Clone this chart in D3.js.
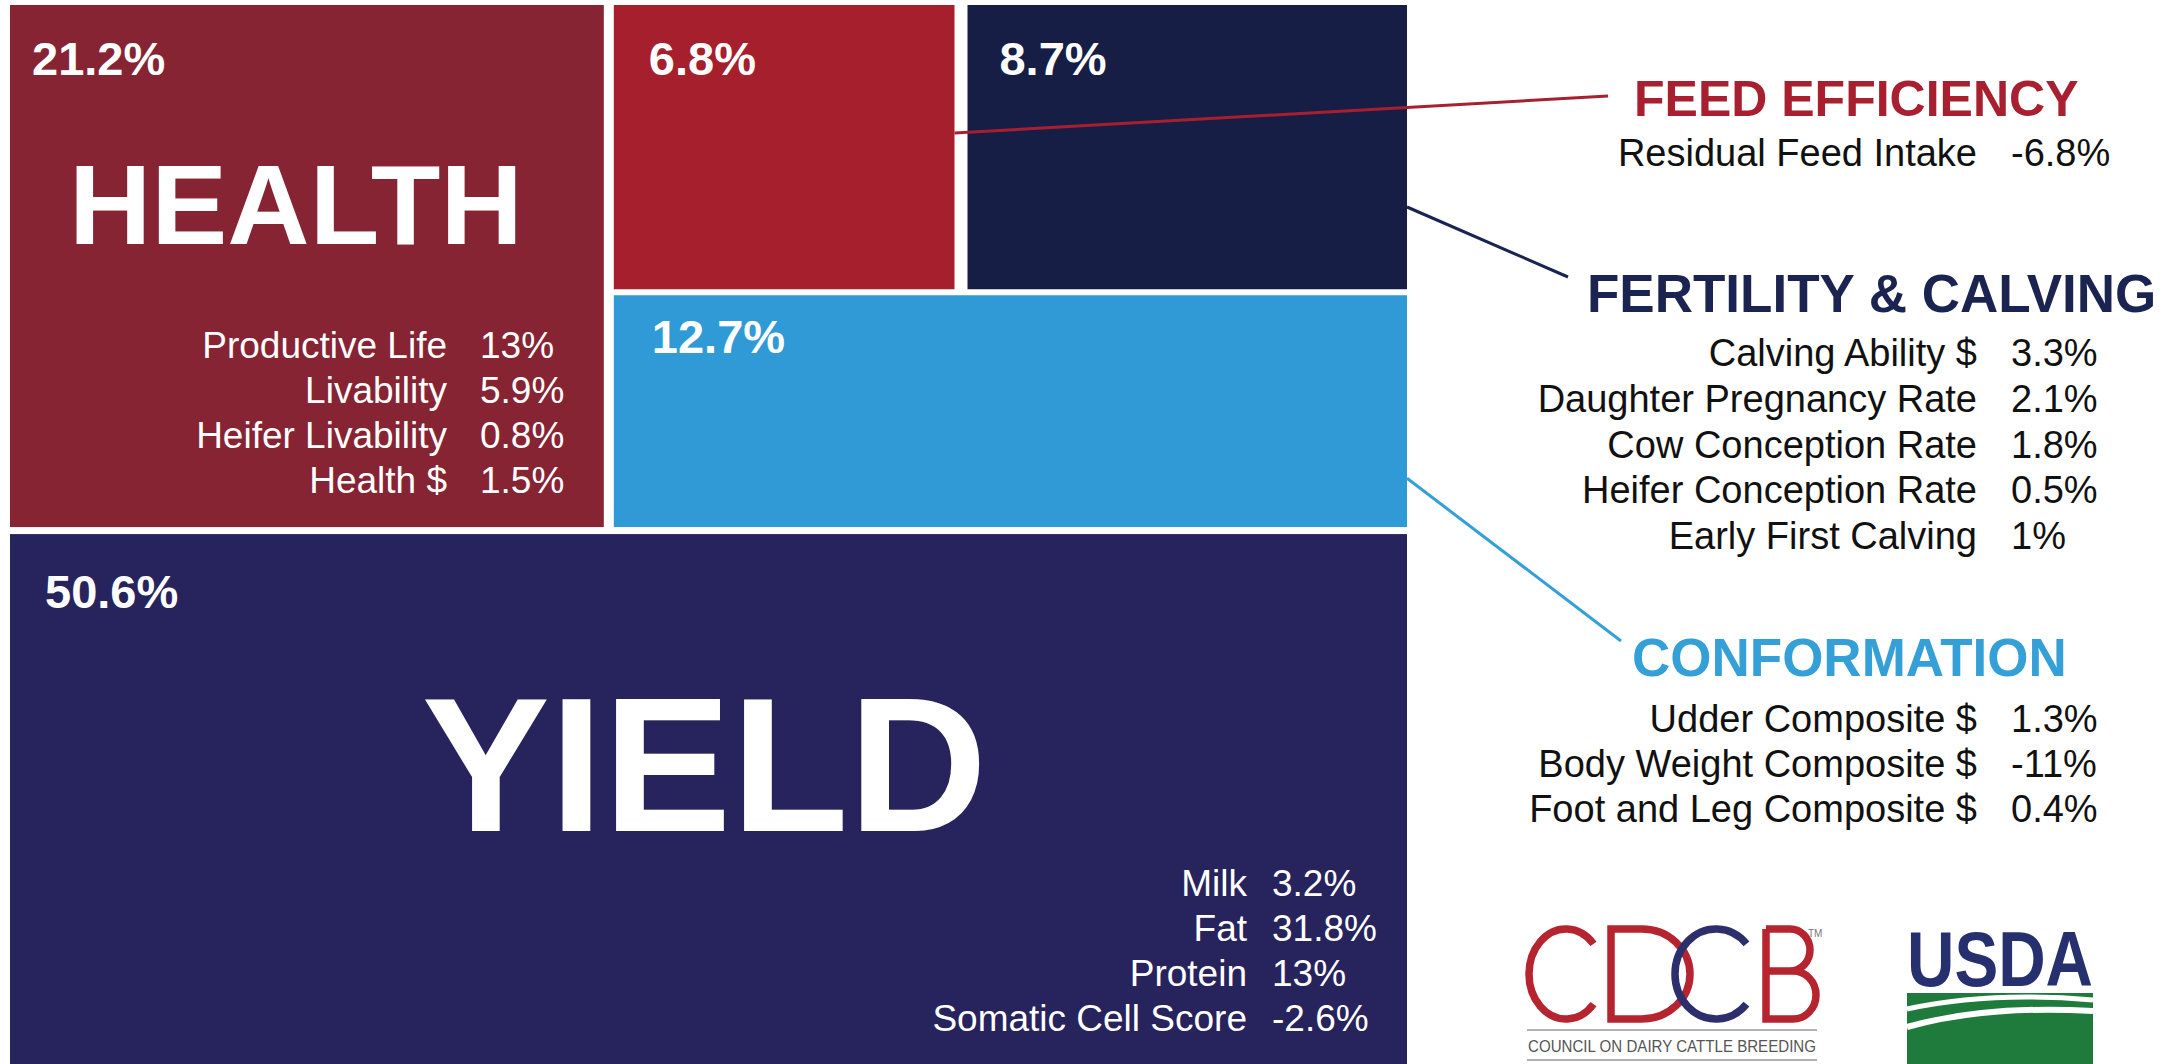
<!DOCTYPE html>
<html>
<head>
<meta charset="utf-8">
<script src="https://cdn.jsdelivr.net/npm/d3@7"></script>
<style>
  html, body { margin: 0; padding: 0; background: #ffffff; }
  svg { display: block; }
  text { font-family: "Liberation Sans", Arial, Helvetica, sans-serif; }
</style>
</head>
<body>
<svg id="chart" width="2183" height="1064"></svg>
<script>
// Net Merit emphasis by trait group (share of the index, %)
const groups = ["HEALTH", "FEED EFFICIENCY", "FERTILITY & CALVING", "CONFORMATION", "YIELD"];
const groupShares = [21.2, 6.8, 8.7, 12.7, 50.6];

// Individual traits inside each group (relative emphasis, %)
const healthTraits = ["Productive Life", "Livability", "Heifer Livability", "Health $"];
const healthValues = [13, 5.9, 0.8, 1.5];
const feedTraits = ["Residual Feed Intake"];
const feedValues = [-6.8];
const fertilityTraits = ["Calving Ability $", "Daughter Pregnancy Rate", "Cow Conception Rate", "Heifer Conception Rate", "Early First Calving"];
const fertilityValues = [3.3, 2.1, 1.8, 0.5, 1];
const conformationTraits = ["Udder Composite $", "Body Weight Composite $", "Foot and Leg Composite $"];
const conformationValues = [1.3, -11, 0.4];
const yieldTraits = ["Milk", "Fat", "Protein", "Somatic Cell Score"];
const yieldValues = [3.2, 31.8, 13, -2.6];

const pct = v => `${v}%`;

const colors = {
  "HEALTH": "#862434",
  "FEED EFFICIENCY": "#A51F2C",
  "FERTILITY & CALVING": "#161E46",
  "CONFORMATION": "#2F9AD6",
  "YIELD": "#27235D"
};
const headingColors = {
  "FEED EFFICIENCY": "#A8202F",
  "FERTILITY & CALVING": "#1B2450",
  "CONFORMATION": "#35A0D8"
};

// Nesting used for the layout:
// [ [Health, [[Feed, Fertility], Conformation]], Yield ]
const leaf = i => ({ name: groups[i], value: groupShares[i] });
const tree = {
  children: [
    { children: [leaf(0), { children: [{ children: [leaf(1), leaf(2)] }, leaf(3)] }] },
    leaf(4)
  ]
};
const gapByDepth = [7, 10, 6, 13];

// Even depths stack vertically, odd depths run side by side
const tile = (node, x0, y0, x1, y1) =>
  (node.depth % 2 === 0 ? d3.treemapSlice : d3.treemapDice)(node, x0, y0, x1, y1);

const root = d3.hierarchy(tree).sum(d => d.value || 0);
d3.treemap()
  .tile(tile)
  .size([1397, 1064])
  .paddingInner(n => gapByDepth[n.depth])
  (root);

const svg = d3.select("#chart");
svg.append("rect").attr("width", 2183).attr("height", 1064).attr("fill", "#ffffff");

const map = svg.append("g").attr("transform", "translate(10,5)");
const leaves = root.leaves();
const byName = {};
leaves.forEach(d => byName[d.data.name] = d);

map.selectAll("rect.cell")
  .data(leaves)
  .join("rect")
  .attr("class", "cell")
  .attr("x", d => d.x0)
  .attr("y", d => d.y0)
  .attr("width", d => d.x1 - d.x0)
  .attr("height", d => d.y1 - d.y0)
  .attr("fill", d => colors[d.data.name]);

// Share label in the corner of each cell
const shareOffset = {
  "HEALTH": [22, 70],
  "FEED EFFICIENCY": [35, 70],
  "FERTILITY & CALVING": [32, 70],
  "CONFORMATION": [38, 58],
  "YIELD": [35, 74]
};
map.selectAll("text.share")
  .data(leaves)
  .join("text")
  .attr("class", "share")
  .attr("x", d => d.x0 + shareOffset[d.data.name][0])
  .attr("y", d => d.y0 + shareOffset[d.data.name][1])
  .attr("fill", "#ffffff")
  .attr("font-weight", "bold")
  .attr("font-size", 47)
  .text(d => pct(d.data.value));

// Big group names inside the two largest cells
const health = byName["HEALTH"], yieldCell = byName["YIELD"];
map.append("text")
  .attr("x", health.x0 + 59).attr("y", health.y0 + 239)
  .attr("fill", "#fff").attr("font-weight", "bold").attr("font-size", 114)
  .text("HEALTH");
map.append("text")
  .attr("x", (yieldCell.x0 + yieldCell.x1) / 2 - 4).attr("y", yieldCell.y0 + 297)
  .attr("text-anchor", "middle")
  .attr("fill", "#fff").attr("font-weight", "bold").attr("font-size", 192)
  .text("YIELD");

// Two-column trait list: names right-aligned, values left-aligned
function traitList(parent, names, values, opts) {
  const g = parent.append("g");
  const rows = g.selectAll("g").data(names).join("g")
    .attr("transform", (d, i) => `translate(0,${opts.y + i * opts.step})`);
  rows.append("text")
    .attr("x", opts.xName).attr("text-anchor", "end")
    .attr("fill", opts.color).attr("font-size", opts.size)
    .text(d => d);
  rows.append("text")
    .attr("x", opts.xValue)
    .attr("fill", opts.color).attr("font-size", opts.size)
    .text((d, i) => pct(values[i]));
  return g;
}

traitList(map, healthTraits, healthValues,
  { y: health.y0 + 353, step: 45, xName: health.x0 + 437, xValue: health.x0 + 470, color: "#fff", size: 37 });
traitList(map, yieldTraits, yieldValues,
  { y: yieldCell.y0 + 362, step: 45, xName: yieldCell.x0 + 1237, xValue: yieldCell.x0 + 1262, color: "#fff", size: 37 });

// Right-hand legend panel
const panel = svg.append("g");
const headings = [
  { name: "FEED EFFICIENCY", x: 1634, y: 116, size: 50 },
  { name: "FERTILITY & CALVING", x: 1587, y: 312, size: 53 },
  { name: "CONFORMATION", x: 1632, y: 676, size: 53 }
];
panel.selectAll("text.heading").data(headings).join("text")
  .attr("class", "heading")
  .attr("x", d => d.x).attr("y", d => d.y)
  .attr("fill", d => headingColors[d.name])
  .attr("font-weight", "bold").attr("font-size", d => d.size)
  .text(d => d.name);

const listOpts = { xName: 1977, xValue: 2011, color: "#111", size: 38 };
traitList(panel, feedTraits, feedValues, { ...listOpts, y: 166, step: 46 });
traitList(panel, fertilityTraits, fertilityValues, { ...listOpts, y: 366, step: 45.8 });
traitList(panel, conformationTraits, conformationValues, { ...listOpts, y: 732, step: 45 });

// Leader lines from each small cell to its legend heading
const feed = byName["FEED EFFICIENCY"], fert = byName["FERTILITY & CALVING"], conf = byName["CONFORMATION"];
const leaders = [
  { from: [feed.x1 + 10, feed.y0 + 133], to: [1608, 96], color: "#A8202F" },
  { from: [fert.x1 + 10, fert.y0 + 207], to: [1568, 277], color: "#1B2450" },
  { from: [conf.x1 + 10, conf.y0 + 188], to: [1621, 641], color: "#35A0D8" }
];
svg.selectAll("line.leader").data(leaders).join("line")
  .attr("class", "leader")
  .attr("x1", d => d.from[0]).attr("y1", d => d.from[1])
  .attr("x2", d => d.to[0]).attr("y2", d => d.to[1])
  .attr("stroke", d => d.color).attr("stroke-width", 3);

// CDCB logo
const logo = svg.append("g");
function cArc(cx, cy, rx, ry, open) {
  const a = open * Math.PI / 180;
  const x = cx + rx * Math.cos(a), y1 = cy - ry * Math.sin(a), y2 = cy + ry * Math.sin(a);
  return `M${x},${y1} A${rx},${ry} 0 1 0 ${x},${y2}`;
}
const cdcbRed = "#B5242F", cdcbBlue = "#2C2F6C";
const sw = 7.5;
logo.append("path").attr("d", cArc(1566, 974, 37, 45, 42))
  .attr("fill", "none").attr("stroke", cdcbRed).attr("stroke-width", sw);
logo.append("path").attr("d", "M1611,929 V1019 H1642 A48,45 0 0 0 1642,929 Z")
  .attr("fill", "none").attr("stroke", cdcbRed).attr("stroke-width", sw).attr("stroke-linejoin", "miter");
logo.append("path").attr("d", cArc(1716, 974, 41, 45, 42))
  .attr("fill", "none").attr("stroke", cdcbBlue).attr("stroke-width", sw);
logo.append("path").attr("d", "M1766,929 V1019 H1793 A23,24 0 0 0 1793,971 H1766 M1766,929 H1790 A20,21 0 0 1 1790,971")
  .attr("fill", "none").attr("stroke", cdcbRed).attr("stroke-width", sw);
logo.append("text").attr("x", 1808).attr("y", 937).attr("font-size", 10).attr("fill", "#777").text("TM");
logo.append("line").attr("x1", 1527).attr("x2", 1817).attr("y1", 1030).attr("y2", 1030).attr("stroke", "#999").attr("stroke-width", 1.5);
logo.append("line").attr("x1", 1527).attr("x2", 1817).attr("y1", 1060).attr("y2", 1060).attr("stroke", "#999").attr("stroke-width", 1.5);
logo.append("text").attr("x", 1528).attr("y", 1052).attr("font-size", 17).attr("fill", "#555")
  .attr("textLength", 288).attr("lengthAdjust", "spacingAndGlyphs")
  .text("COUNCIL ON DAIRY CATTLE BREEDING");

// USDA logo
const usda = svg.append("g");
usda.append("text").attr("x", 1907).attr("y", 986)
  .attr("font-family", '"Liberation Serif", "DejaVu Serif", serif')
  .attr("font-weight", "bold").attr("font-size", 78).attr("fill", "#27306E")
  .attr("textLength", 186).attr("lengthAdjust", "spacingAndGlyphs")
  .text("USDA");
usda.append("rect").attr("x", 1907).attr("y", 993).attr("width", 186).attr("height", 71).attr("fill", "#1E7B3C");
usda.append("path").attr("d", "M1907,1009 Q1990,991 2093,1000").attr("fill", "none").attr("stroke", "#fff").attr("stroke-width", 5);
usda.append("path").attr("d", "M1907,1027 Q1985,1005 2093,1011").attr("fill", "none").attr("stroke", "#fff").attr("stroke-width", 6);
</script>
</body>
</html>
